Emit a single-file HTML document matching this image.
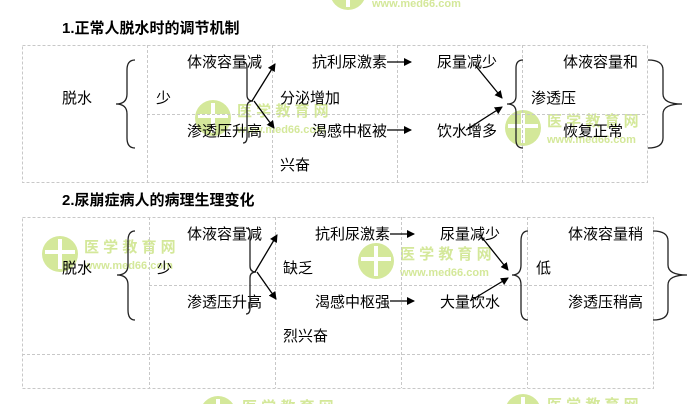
<!DOCTYPE html>
<html><head><meta charset="utf-8"><style>
html,body{margin:0;padding:0;background:#fff;width:698px;height:404px;overflow:hidden;}
svg{display:block;overflow:hidden;}
text{font-family:"Liberation Sans","Noto Sans CJK SC",sans-serif;font-size:15px;fill:#000;}
.t{font-weight:bold;font-size:15px;}
.g{stroke:#c8c8c8;stroke-width:1;stroke-dasharray:3,2;fill:none;}
.b{stroke:#222;stroke-width:1.3;fill:none;}
.a{stroke:#000;stroke-width:1.3;}
.wc{fill:#d4e89a;}
.wt{fill:#d4e89a;font-weight:bold;font-size:15px;}
.ws{fill:#d4e89a;font-weight:bold;font-size:11px;}
</style></head><body>
<svg width="698" height="404" viewBox="0 0 698 404">
<defs><marker id="ar" markerWidth="8" markerHeight="8" refX="7" refY="4" orient="auto" markerUnits="userSpaceOnUse"><path d="M0,0 L8,4 L0,8 z" fill="#000"/></marker>
<g id="wm"><circle class="wc" cx="18" cy="18" r="18"/><rect x="3" y="14" width="30" height="4" fill="#fff"/><rect x="16" y="3" width="4" height="30" fill="#fff"/><text class="wt" x="42" y="16">医 学 教 育 网</text><text class="ws" x="42" y="33">www.med66.com</text></g></defs>
<use href="#wm" x="195" y="100"/>
<use href="#wm" x="505" y="110"/>
<use href="#wm" x="42" y="236"/>
<use href="#wm" x="358" y="243"/>
<use href="#wm" x="330" y="-26"/>
<use href="#wm" x="505" y="394"/>
<use href="#wm" x="200" y="396"/>
<!-- Table 1 -->
<text class="t" x="62" y="33">1.正常人脱水时的调节机制</text>
<rect class="g" x="22.5" y="45.5" width="625" height="137"/>
<line class="g" x1="147.5" y1="45" x2="147.5" y2="182"/>
<line class="g" x1="272.5" y1="45" x2="272.5" y2="182"/>
<line class="g" x1="397.5" y1="45" x2="397.5" y2="182"/>
<line class="g" x1="522.5" y1="45" x2="522.5" y2="182"/>
<line class="g" x1="147" y1="114.5" x2="647" y2="114.5"/>
<text x="62" y="103">脱水</text>
<path class="b" d="M135,60 Q127,60 127,70 L127,94 Q127,104 116,104 Q127,104 127,114 L127,138 Q127,148 135,148"/>
<text x="156" y="103">少</text>
<text x="187" y="67">体液容量减</text>
<text x="187" y="136">渗透压升高</text>
<path class="b" d="M243,62 Q247,62 247,68 L247,95 Q247,101 253,101 Q247,101 247,107 L247,137 Q247,143 243,143"/>
<line class="a" x1="252" y1="101" x2="275" y2="64" marker-end="url(#ar)"/>
<line class="a" x1="254" y1="101" x2="274" y2="128" marker-end="url(#ar)"/>
<text x="280" y="103">分泌增加</text>
<text x="280" y="170">兴奋</text>
<text x="312" y="67">抗利尿激素</text>
<line class="a" x1="387" y1="62" x2="411" y2="62" marker-end="url(#ar)"/>
<text x="437" y="67">尿量减少</text>
<text x="312" y="136">渴感中枢被</text>
<line class="a" x1="387" y1="130" x2="411" y2="130" marker-end="url(#ar)"/>
<text x="437" y="136">饮水增多</text>
<line class="a" x1="475" y1="65" x2="502" y2="98" marker-end="url(#ar)"/>
<line class="a" x1="466" y1="130" x2="502" y2="107" marker-end="url(#ar)"/>
<path class="b" d="M523,60 Q516,60 516,68 L516,96 Q516,104 507,104 Q516,104 516,112 L516,140 Q516,148 523,148"/>
<text x="563" y="67">体液容量和</text>
<text x="531" y="103">渗透压</text>
<text x="563" y="136">恢复正常</text>
<path class="b" d="M648,60 Q663,60 663,70 L663,94 Q663,104 682,104 Q663,104 663,114 L663,138 Q663,148 648,148"/>
<!-- Table 2 -->
<text class="t" x="62" y="205">2.尿崩症病人的病理生理变化</text>
<rect class="g" x="22.5" y="217.5" width="631" height="171"/>
<line class="g" x1="149.5" y1="217" x2="149.5" y2="388"/>
<line class="g" x1="275.5" y1="217" x2="275.5" y2="388"/>
<line class="g" x1="401.5" y1="217" x2="401.5" y2="388"/>
<line class="g" x1="527.5" y1="217" x2="527.5" y2="388"/>
<line class="g" x1="149" y1="285.5" x2="653" y2="285.5"/>
<line class="g" x1="22" y1="354.5" x2="653" y2="354.5"/>
<text x="62" y="273">脱水</text>
<path class="b" d="M135,231 Q128,231 128,241 L128,265 Q128,275 117,275 Q128,275 128,285 L128,310 Q128,320 135,320"/>
<text x="157" y="273">少</text>
<text x="187" y="239">体液容量减</text>
<text x="187" y="307">渗透压升高</text>
<path class="b" d="M246,228 Q250,228 250,234 L250,266 Q250,272 256,272 Q250,272 250,278 L250,308 Q250,314 246,314"/>
<line class="a" x1="255" y1="272" x2="277" y2="235" marker-end="url(#ar)"/>
<line class="a" x1="257" y1="272" x2="276" y2="299" marker-end="url(#ar)"/>
<text x="283" y="273">缺乏</text>
<text x="283" y="341">烈兴奋</text>
<text x="315" y="239">抗利尿激素</text>
<line class="a" x1="390" y1="234" x2="414" y2="234" marker-end="url(#ar)"/>
<text x="440" y="239">尿量减少</text>
<text x="315" y="307">渴感中枢强</text>
<line class="a" x1="390" y1="301" x2="414" y2="301" marker-end="url(#ar)"/>
<text x="440" y="307">大量饮水</text>
<line class="a" x1="480" y1="235" x2="508" y2="270" marker-end="url(#ar)"/>
<line class="a" x1="470" y1="301" x2="508" y2="278" marker-end="url(#ar)"/>
<path class="b" d="M528,231 Q521,231 521,241 L521,265 Q521,275 512,275 Q521,275 521,285 L521,310 Q521,320 528,320"/>
<text x="568" y="239">体液容量稍</text>
<text x="536" y="273">低</text>
<text x="568" y="307">渗透压稍高</text>
<path class="b" d="M653,231 Q668,231 668,241 L668,265 Q668,275 687,275 Q668,275 668,285 L668,310 Q668,320 653,320"/>
</svg>
</body></html>
